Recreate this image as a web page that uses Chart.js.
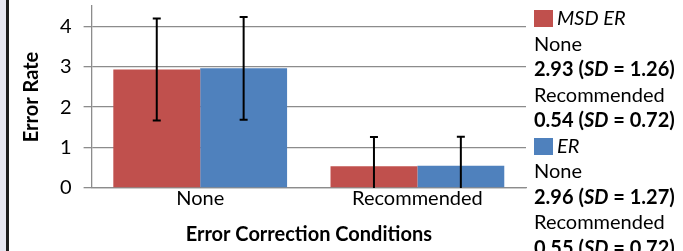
<!DOCTYPE html>
<html>
<head>
<meta charset="utf-8">
<script src="https://cdn.jsdelivr.net/npm/chart.js@4"></script>
<style>
  html, body { margin:0; padding:0; background:#fff; }
  body { width:683px; height:251px; position:relative; overflow:hidden; font-family:Lato, sans-serif; }
  #wrap { position:absolute; left:0; top:0; width:683px; height:251px; }
  #strip { position:absolute; left:0; top:0; width:6px; height:251px; background:#e6e6f0; }
  #edge { position:absolute; left:6px; top:0; width:3px; height:251px; background:#1c1c1c; }
  #legend { position:absolute; left:534px; top:5px; font-size:20px; line-height:25.5px; color:#000; white-space:nowrap; }
  #legend .name { font-style:italic; }
  #legend .sw { display:inline-block; width:19px; height:17px; vertical-align:-2px; margin-right:4px; }
  #legend .val { font-weight:bold; }
</style>
</head>
<body>
<div id="wrap"><canvas id="chart" width="683" height="251"></canvas></div>
<div id="strip"></div>
<div id="edge"></div>
<div id="legend"></div>
<script>
// Datos
const categories = ['None', 'Recommended'];
const seriesNames = ['MSD ER', 'ER'];
const msdValues = [2.93, 0.54];
const msdSD = [1.26, 0.72];
const erValues = [2.96, 0.55];
const erSD = [1.27, 0.72];
const yTicks = [0, 1, 2, 3, 4];

const colors = ['#c0504d', '#4f81bd'];

// Leyenda (texto real en HTML)
const legend = document.getElementById('legend');
[[msdValues, msdSD], [erValues, erSD]].forEach((s, i) => {
  let html = `<div><span class="sw" style="background:${colors[i]}"></span><span class="name">${seriesNames[i]}</span></div>`;
  categories.forEach((c, j) => {
    html += `<div>${c}</div>`;
    html += `<div class="val">${s[0][j].toFixed(2)} (<i>SD</i> = ${s[1][j].toFixed(2)})</div>`;
  });
  legend.innerHTML += html;
});

// Barras de error
const errorBars = {
  id: 'errorBars',
  afterDatasetsDraw(chart) {
    const ctx = chart.ctx;
    const y = chart.scales.y;
    const area = chart.chartArea;
    ctx.save();
    ctx.beginPath();
    ctx.rect(area.left, area.top - 10, area.right - area.left, area.bottom - area.top + 10);
    ctx.clip();
    ctx.strokeStyle = '#000';
    ctx.lineWidth = 2;
    chart.data.datasets.forEach((ds, i) => {
      chart.getDatasetMeta(i).data.forEach((bar, j) => {
        const v = ds.data[j], sd = ds.sd[j];
        const top = y.getPixelForValue(v + sd);
        const bot = y.getPixelForValue(v - sd);
        ctx.beginPath();
        ctx.moveTo(bar.x, top); ctx.lineTo(bar.x, bot);
        ctx.moveTo(bar.x - 4, top); ctx.lineTo(bar.x + 4, top);
        ctx.moveTo(bar.x - 4, bot); ctx.lineTo(bar.x + 4, bot);
        ctx.stroke();
      });
    });
    ctx.restore();
  }
};

new Chart(document.getElementById('chart'), {
  type: 'bar',
  data: {
    labels: categories,
    datasets: [
      { label: seriesNames[0], data: msdValues, sd: msdSD, backgroundColor: colors[0] },
      { label: seriesNames[1], data: erValues, sd: erSD, backgroundColor: colors[1] }
    ]
  },
  options: {
    responsive: false,
    animation: false,
    events: [],
    layout: { padding: { left: 20, right: 157, top: 6, bottom: 4 } },
    plugins: { legend: { display: false }, tooltip: { enabled: false } },
    datasets: { bar: { categoryPercentage: 0.8, barPercentage: 1.0 } },
    scales: {
      x: {
        grid: { display: false },
        border: { color: '#8c8c8c', width: 1.3 },
        ticks: { color: '#000', font: { family: 'Lato', size: 20 }, padding: -9 },
        title: { display: true, text: 'Error Correction Conditions', color: '#000',
                 font: { family: 'Lato', size: 20, weight: 'bold' }, padding: { top: 21, bottom: 0 } }
      },
      y: {
        min: 0, max: 4.5,
        afterBuildTicks: axis => { axis.ticks = yTicks.map(v => ({ value: v })); },
        afterFit: axis => { axis.paddingTop = 0; },
        grid: { color: '#8c8c8c', lineWidth: 1.3, tickLength: 8 },
        border: { color: '#8c8c8c', width: 1.3 },
        ticks: { color: '#000', font: { family: 'Lato', size: 20 }, padding: 12 },
        title: { display: true, text: 'Error Rate', color: '#000',
                 font: { family: 'Lato', size: 20, weight: 'bold' }, padding: { top: 0, bottom: 4 } }
      }
    }
  },
  plugins: [errorBars]
});
</script>
</body>
</html>
